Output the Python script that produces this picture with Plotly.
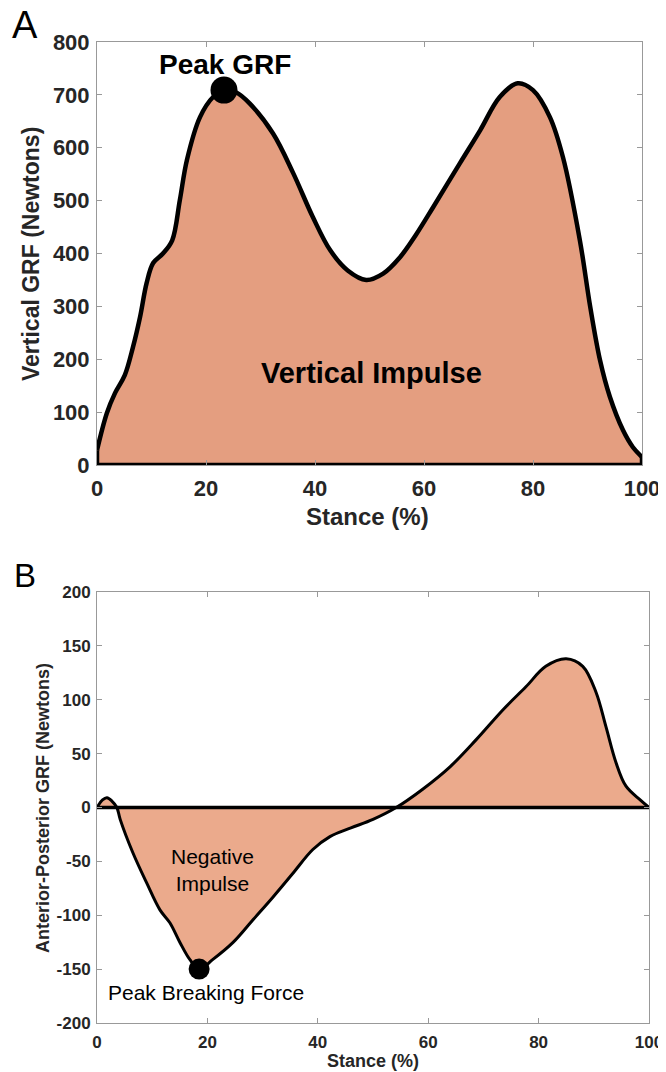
import plotly.graph_objects as go

# ---- Data ----
stance_a = [0, 1.8, 3.3, 5.1, 6.6, 7.9, 9.1, 10.3, 12.1, 13.8, 15.2, 16.5, 18.9, 21.3, 23.3,
            25.5, 28, 32.3, 36, 39.6, 42.8, 46, 49.4, 52.5, 55.6, 58.5, 61.7, 66.6, 70.3,
            73.9, 77.2, 80, 83.1, 85.5, 88.6, 90.5, 92.3, 94.1, 96.5, 98.3, 100]
vertical_grf = [28, 98, 136, 170, 223, 280, 344, 382, 400, 425, 501, 577, 658, 696, 709,
                705, 684, 627, 552, 469, 406, 368, 350, 362, 393, 435, 488, 571, 633,
                696, 722, 709, 658, 582, 425, 299, 198, 129, 66, 34, 15]
peak_grf = (23.3, 709)

stance_b = [0, 1.0, 1.8, 2.7, 3.6, 4.2, 6.5, 9, 11.4, 13.2, 15, 16.8, 18.5, 21, 24.7, 28.3,
            31.9, 35.5, 39.1, 42.2, 46, 50, 54.2, 59, 64, 68.7, 73.6, 77.7, 81.3, 85,
            88, 90.4, 92.2, 94, 95.8, 98.4, 100]
ap_grf = [0, 7, 9, 6, 0, -11, -42, -70, -95, -107, -125, -141, -150, -141, -125, -104,
          -83, -61, -39, -27, -19, -11, 0, 17, 38, 63, 91, 112, 131, 138,
          131, 107, 75, 42, 20, 7, 0]
peak_break = (18.5, -150)

x_ticks = [0, 20, 40, 60, 80, 100]
ya_ticks = [0, 100, 200, 300, 400, 500, 600, 700, 800]
yb_ticks = [-200, -150, -100, -50, 0, 50, 100, 150, 200]
yb_labels = ["-200", "-150", "-100", "-50", "0", "50", "100", "150", "200"]

# page has an 8px body margin at left/top; figure reaches the window edges
OFF = 8
W, H = 666 - OFF, 1072 - OFF
FILL_A = "#E49E80"
FILL_B = "#EBAA8C"
TXT = "#262626"
FRAME = "#999999"
FONT = "Liberation Sans, Arial, sans-serif"

def px(x):
    return (x - OFF) / W

def py(y):
    return 1 - (y - OFF) / H

fig = go.Figure()

# Panel A
fig.add_trace(go.Scatter(x=stance_a, y=vertical_grf, mode="lines",
                         line=dict(color="black", width=4.5, shape="spline", smoothing=1.0),
                         fill="tozeroy", fillcolor=FILL_A, xaxis="x", yaxis="y", hoverinfo="skip"))
fig.add_trace(go.Scatter(x=[stance_a[0], stance_a[0], stance_a[-1], stance_a[-1]],
                         y=[vertical_grf[0], 0, 0, vertical_grf[-1]], mode="lines",
                         line=dict(color="black", width=4.5), xaxis="x", yaxis="y", hoverinfo="skip"))
fig.add_trace(go.Scatter(x=[peak_grf[0]], y=[peak_grf[1]], mode="markers",
                         marker=dict(color="black", size=27), xaxis="x", yaxis="y"))

# Panel B
fig.add_trace(go.Scatter(x=stance_b, y=ap_grf, mode="lines",
                         line=dict(color="black", width=3, shape="spline", smoothing=1.0),
                         fill="tozeroy", fillcolor=FILL_B, xaxis="x2", yaxis="y2", hoverinfo="skip"))
fig.add_trace(go.Scatter(x=[0, 100], y=[0, 0], mode="lines", line=dict(color="black", width=3.5),
                         xaxis="x2", yaxis="y2", hoverinfo="skip"))
fig.add_trace(go.Scatter(x=[peak_break[0]], y=[peak_break[1]], mode="markers",
                         marker=dict(color="black", size=21), xaxis="x2", yaxis="y2"))

axis_common = dict(showgrid=False, zeroline=False, showline=True, linecolor=FRAME, linewidth=1,
                   mirror="allticks", ticks="inside", tickcolor=FRAME, ticklen=5, tickwidth=1,
                   automargin=False, fixedrange=True, ticklabeloverflow="allow")

fig.update_layout(
    width=W, height=H, margin=dict(l=0, r=0, t=0, b=0, autoexpand=False),
    paper_bgcolor="white", plot_bgcolor="white", showlegend=False,
    font=dict(family=FONT, color=TXT),
    xaxis=dict(domain=[px(97), px(642)], range=[0, 100], tickvals=x_ticks, anchor="y",
               tickfont=dict(size=22, family="Liberation Sans", weight="bold", color=TXT), ticklabelstandoff=4, **axis_common),
    yaxis=dict(domain=[py(465), py(42)], range=[0, 800], tickvals=ya_ticks, anchor="x",
               tickfont=dict(size=22, family="Liberation Sans", weight="bold", color=TXT), ticklabelstandoff=2, **axis_common),
    xaxis2=dict(domain=[px(97), px(649)], range=[0, 100], tickvals=x_ticks, anchor="y2",
                tickfont=dict(size=17, family="Liberation Sans", weight="bold", color=TXT), ticklabelstandoff=4, **axis_common),
    yaxis2=dict(domain=[py(1023), py(592)], range=[-200, 200], tickvals=yb_ticks, ticktext=yb_labels, anchor="x2",
                tickfont=dict(size=17, family="Liberation Sans", weight="bold", color=TXT), ticklabelstandoff=2, **axis_common),
)

def note(text, x, y, size, color=TXT, angle=0, xref="paper", yref="paper"):
    return dict(text=text, x=x, y=y, xref=xref, yref=yref, showarrow=False, textangle=angle,
                xanchor="center", yanchor="middle", font=dict(size=size, color=color))

ann = [
    note("A", px(25), py(25), 38, color="black"),
    note("B", px(25), py(575), 33, color="black"),
    note("<b>Vertical GRF (Newtons)</b>", px(31), py(254), 23, angle=-90),
    note("<b>Stance (%)</b>", px(367), py(517), 24),
    note("<b>Anterior-Posterior GRF (Newtons)</b>", px(43), py(808), 18, angle=-90),
    note("<b>Stance (%)</b>", px(373), py(1061), 18),
    note("<b>Peak GRF</b>", 23.5, 758, 28, color="black", xref="x", yref="y"),
    note("<b>Vertical Impulse</b>", 50.3, 174, 29, color="black", xref="x", yref="y"),
    note("Negative<br>Impulse", 21, -58, 21, color="black", xref="x2", yref="y2"),
    note("Peak Breaking Force", 19.7, -172, 21, color="black", xref="x2", yref="y2"),
]
fig.update_layout(annotations=ann)

fig.write_html("out.html")
